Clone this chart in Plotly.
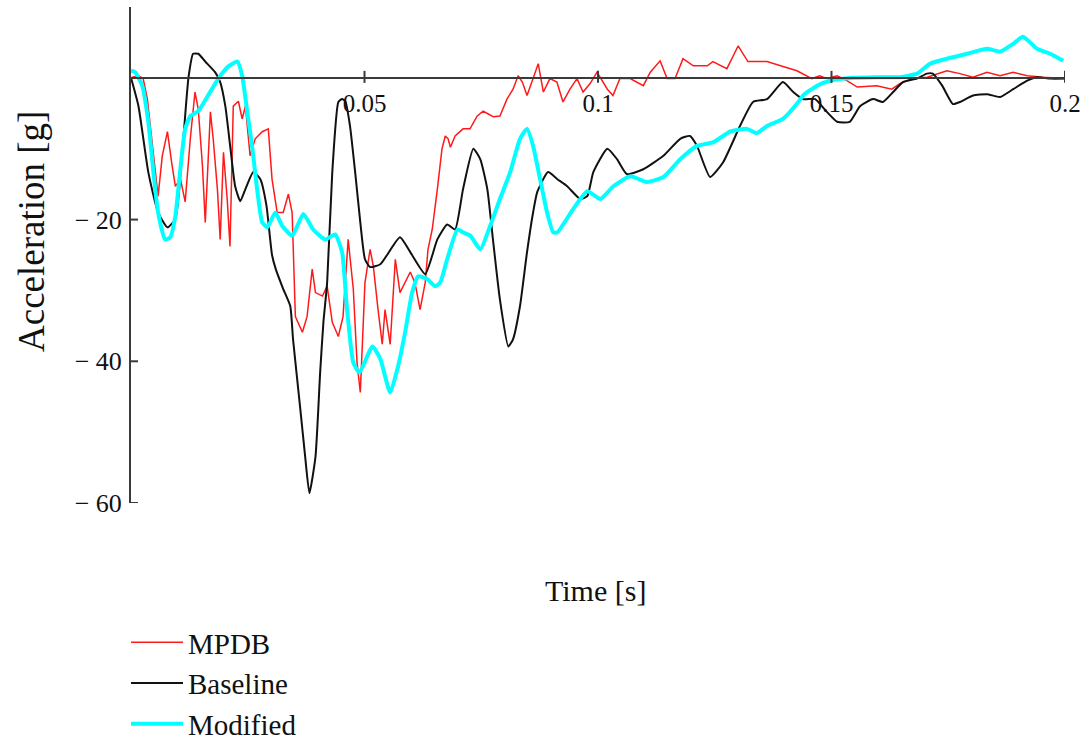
import plotly.graph_objects as go

# ---------------- data (time in s, acceleration in g) ----------------
t_mpdb = [0.0, 0.0003, 0.0016, 0.0026, 0.0035, 0.0041, 0.0052, 0.0058, 0.0067, 0.0078,
          0.0088, 0.0095, 0.0106, 0.0116, 0.0127, 0.0137, 0.0144, 0.0153, 0.0159, 0.0170,
          0.0176, 0.0185, 0.0191, 0.0198, 0.0206, 0.0212, 0.0219, 0.0230, 0.0238, 0.0245,
          0.0255, 0.0266, 0.0281, 0.0294, 0.0302, 0.0313, 0.0326, 0.0337, 0.0345, 0.0352,
          0.0367, 0.0377, 0.0388, 0.0395, 0.0410, 0.0420, 0.0431, 0.0444, 0.0454, 0.0465,
          0.0476, 0.0484, 0.0491, 0.0501, 0.0512, 0.0519, 0.0529, 0.0538, 0.0544, 0.0555,
          0.0566, 0.0576, 0.0598, 0.0608, 0.0619, 0.0630, 0.0636, 0.0645, 0.0656, 0.0666,
          0.0673, 0.0679, 0.0684, 0.0694, 0.0711, 0.0726, 0.0741, 0.0754, 0.0765, 0.0776,
          0.0790, 0.0805, 0.0818, 0.0829, 0.0838, 0.0848, 0.0861, 0.0872, 0.0883, 0.0897,
          0.0912, 0.0925, 0.0940, 0.0955, 0.0968, 0.0983, 0.0998, 0.1020, 0.1032, 0.1047,
          0.1069, 0.1097, 0.1112, 0.1133, 0.1148, 0.1165, 0.1182, 0.1204, 0.1234, 0.1246,
          0.1276, 0.1300, 0.1321, 0.1362, 0.1396, 0.1426, 0.1458, 0.1475, 0.1490, 0.1512,
          0.1533, 0.1555, 0.1597, 0.1629, 0.1647, 0.1675, 0.1705, 0.1747, 0.1775, 0.1803,
          0.1833, 0.1861, 0.1889, 0.1919, 0.1953, 0.2000]
g_mpdb = [0.0, 0.1, 0.3, -0.1, -3.0, -6.8, -13.3, -16.7, -11.0, -7.6,
          -12.4, -15.3, -14.3, -17.5, -8.6, -2.0, -4.4, -12.4, -20.4, -4.8,
          -8.6, -15.7, -22.8, -10.5, -17.1, -23.8, -4.0, -3.3, -5.8, -4.0,
          -11.0, -8.6, -7.6, -7.2, -14.3, -19.0, -19.0, -16.4, -19.0, -33.7,
          -35.9, -33.7, -27.0, -30.3, -30.8, -29.4, -34.5, -36.5, -33.7, -22.8,
          -29.8, -40.2, -44.4, -28.9, -24.2, -26.6, -32.7, -37.6, -32.7, -37.6,
          -25.6, -30.3, -27.4, -28.9, -32.7, -28.9, -24.2, -21.4, -15.7, -10.0,
          -8.2, -8.6, -9.8, -8.2, -7.2, -7.2, -5.4, -4.7, -5.1, -5.5,
          -5.4, -3.0, -1.6, 0.3, -0.6, -2.5, -0.1, 2.0, -2.0, -0.1,
          -0.6, -3.4, -1.6, -0.1, -2.0, -0.8, 0.8, -1.6, -2.5, -0.1,
          -0.1, -1.1, 0.8, 2.4, -0.1, -0.1, 2.7, 1.7, 1.7, 2.3,
          1.3, 4.5, 2.3, 2.3, 1.6, 1.0, -0.1, 0.3, -0.1, 0.3,
          -0.4, -1.3, -1.1, -1.6, -0.8, -0.1, 0.1, 1.0, 0.6, 0.1,
          0.8, 0.3, 0.8, 0.3, 0.1, -0.1]

t_base = [0.0, 0.0016, 0.0037, 0.0058, 0.0078, 0.0095, 0.0112, 0.0123, 0.0133, 0.0144,
          0.0159, 0.0180, 0.0191, 0.0202, 0.0213, 0.0223, 0.0234, 0.0245, 0.0262, 0.0277,
          0.0290, 0.0302, 0.0310, 0.0326, 0.0341, 0.0347, 0.0362, 0.0373, 0.0382, 0.0395,
          0.0405, 0.0412, 0.0420, 0.0431, 0.0444, 0.0452, 0.0459, 0.0469, 0.0480, 0.0491,
          0.0501, 0.0512, 0.0534, 0.0576, 0.0598, 0.0630, 0.0656, 0.0677, 0.0694, 0.0711,
          0.0733, 0.0748, 0.0763, 0.0775, 0.0790, 0.0808, 0.0818, 0.0833, 0.0848, 0.0861,
          0.0870, 0.0893, 0.0913, 0.0934, 0.0962, 0.0977, 0.0990, 0.1020, 0.1041, 0.1062,
          0.1097, 0.1140, 0.1176, 0.1197, 0.1212, 0.1240, 0.1268, 0.1304, 0.1332, 0.1362,
          0.1396, 0.1418, 0.1439, 0.1465, 0.1490, 0.1512, 0.1539, 0.1561, 0.1589, 0.1610,
          0.1632, 0.1653, 0.1683, 0.1704, 0.1717, 0.1737, 0.1760, 0.1775, 0.1803, 0.1833,
          0.1861, 0.1889, 0.1919, 0.1940, 0.1968, 0.2000]
g_base = [0.0, -4.0, -13.3, -19.0, -21.1, -19.9, -8.6, 0.0, 3.4, 3.4,
          2.3, 0.8, -0.6, -4.0, -10.0, -15.3, -17.4, -15.7, -13.3, -14.3,
          -18.0, -25.0, -27.0, -29.8, -32.2, -36.9, -46.4, -53.5, -58.6, -53.5,
          -41.6, -34.5, -28.9, -13.3, -3.4, -3.0, -3.3, -6.8, -13.3, -20.4,
          -25.6, -26.7, -26.3, -22.5, -24.6, -27.7, -22.8, -20.7, -21.4, -15.7,
          -10.0, -11.5, -15.7, -22.8, -31.3, -37.9, -36.9, -32.2, -24.6, -19.0,
          -16.1, -13.3, -14.3, -15.3, -17.1, -16.7, -13.3, -10.0, -11.5, -13.6,
          -12.9, -11.0, -8.6, -8.2, -9.6, -14.0, -11.9, -6.8, -3.4, -3.0,
          -0.6, -2.0, -3.0, -3.0, -4.8, -6.2, -6.2, -4.0, -3.0, -3.4,
          -2.0, -0.6, -0.1, 0.6, 0.6, -1.1, -3.7, -3.4, -2.5, -2.3,
          -2.7, -1.6, -0.4, 0.1, -0.1, -0.1]

t_mod = [0.0, 0.0009, 0.0024, 0.0037, 0.0048, 0.0058, 0.0073, 0.0084, 0.0095, 0.0105,
         0.0116, 0.0127, 0.0144, 0.0165, 0.0187, 0.0208, 0.0228, 0.0238, 0.0249, 0.0260,
         0.0270, 0.0281, 0.0292, 0.0309, 0.0324, 0.0345, 0.0369, 0.0390, 0.0416, 0.0437,
         0.0452, 0.0462, 0.0476, 0.0489, 0.0517, 0.0534, 0.0555, 0.0572, 0.0587, 0.0602,
         0.0615, 0.0634, 0.0651, 0.0662, 0.0677, 0.0699, 0.0711, 0.0727, 0.0748, 0.0769,
         0.0790, 0.0812, 0.0833, 0.0848, 0.0861, 0.0876, 0.0891, 0.0904, 0.0913, 0.0947,
         0.0977, 0.1005, 0.1033, 0.1069, 0.1105, 0.1140, 0.1176, 0.1212, 0.1246, 0.1283,
         0.1319, 0.1340, 0.1362, 0.1396, 0.1429, 0.1439, 0.1469, 0.1497, 0.1546, 0.1597,
         0.1647, 0.1683, 0.1711, 0.1747, 0.1790, 0.1833, 0.1861, 0.1889, 0.1910, 0.1940,
         0.1968, 0.1996]
g_mod = [1.0, 0.8, -1.1, -6.2, -13.3, -19.0, -22.8, -22.5, -19.5, -13.3,
         -7.2, -5.4, -4.7, -2.5, -0.1, 1.6, 2.3, 0.3, -4.8, -10.0,
         -15.7, -20.4, -21.1, -19.0, -20.9, -22.3, -19.2, -21.4, -22.8, -22.1,
         -24.6, -32.2, -40.2, -41.6, -37.9, -39.7, -44.4, -40.7, -35.9, -30.3,
         -28.0, -28.4, -29.4, -28.9, -25.6, -21.4, -21.8, -22.3, -24.2, -20.9,
         -17.1, -13.3, -8.6, -7.2, -9.6, -14.3, -19.0, -21.8, -21.8, -18.5,
         -16.0, -17.1, -15.3, -13.9, -14.7, -14.0, -11.5, -9.6, -9.1, -7.6,
         -7.2, -7.8, -6.8, -5.8, -3.4, -2.5, -1.1, -0.4, 0.0, 0.1,
         0.1, 0.6, 2.0, 2.7, 3.4, 4.1, 3.7, 4.8, 5.8, 4.1,
         3.4, 2.4]

x_ticks = [0.05, 0.1, 0.15, 0.2]
x_ticktext = ["0.05", "0.1", "0.15", "0.2"]
y_ticks = [-20, -40, -60]
y_ticktext = ["\u2212 20", "\u2212 40", "\u2212 60"]

# ---------------- figure ----------------
FONT = "Liberation Serif, Times New Roman, serif"
AXC = "#3a3a3a"
TXT = "#111111"

fig = go.Figure()
fig.add_trace(go.Scatter(x=t_mpdb, y=g_mpdb, mode="lines", name="MPDB",
                         line=dict(color="#ff1a1a", width=1.5)))
fig.add_trace(go.Scatter(x=t_base, y=g_base, mode="lines", name="Baseline",
                         line=dict(color="#111111", width=2, shape="spline", smoothing=0.5)))
fig.add_trace(go.Scatter(x=t_mod, y=g_mod, mode="lines", name="Modified",
                         line=dict(color="#00ffff", width=4, shape="spline", smoothing=0.5)))

y_min, y_max = -60, 10
x_min, x_max = 0, 0.2

# crossing tick marks
shapes = []
for v in x_ticks:
    shapes.append(dict(type="line", xref="x", yref="y", x0=v, x1=v,
                       ysizemode="pixel", yanchor=0, y0=-5, y1=7,
                       line=dict(color=AXC, width=2)))
for v in y_ticks:
    shapes.append(dict(type="line", xref="x", yref="y", y0=v, y1=v,
                       xsizemode="pixel", xanchor=0, x0=-7, x1=7,
                       line=dict(color=AXC, width=2)))

fig.update_layout(
    width=1087, height=742,
    margin=dict(l=131, r=22, t=7, b=239, autoexpand=False),
    paper_bgcolor="white", plot_bgcolor="white",
    font=dict(family=FONT, color=TXT),
    showlegend=True,
    legend=dict(xref="container", yref="container", x=126 / 1087, y=1 - 617 / 742,
                xanchor="left", yanchor="top", bgcolor="rgba(0,0,0,0)",
                itemwidth=52,
                font=dict(size=29, family=FONT, color=TXT), tracegroupgap=0),
    shapes=shapes,
    xaxis=dict(range=[x_min, x_max], showgrid=False, zeroline=False,
               showline=True, linecolor=AXC, linewidth=2,
               anchor="free", position=(0 - y_min) / (y_max - y_min), side="bottom",
               tickvals=x_ticks, ticktext=x_ticktext, ticks="",
               ticklabelstandoff=3,
               tickfont=dict(size=25, family=FONT, color=TXT)),
    yaxis=dict(range=[y_min, y_max], showgrid=False, zeroline=False,
               showline=True, linecolor=AXC, linewidth=2,
               tickvals=y_ticks, ticktext=y_ticktext, ticks="",
               ticklabelstandoff=2,
               tickfont=dict(size=26, family=FONT, color=TXT)),
    annotations=[
        dict(text="Time [s]", xref="paper", yref="paper", x=(595 - 131) / 934,
             y=-(590 - 503) / 496, showarrow=False, xanchor="center", yanchor="middle",
             font=dict(size=30, family=FONT, color=TXT)),
        dict(text="Acceleration [g]", xref="paper", yref="paper", x=-(131 - 31) / 934,
             y=(503 - 232) / 496, showarrow=False, textangle=-90,
             xanchor="center", yanchor="middle",
             font=dict(size=37, family=FONT, color=TXT)),
    ],
)

fig.write_html("out.html")
